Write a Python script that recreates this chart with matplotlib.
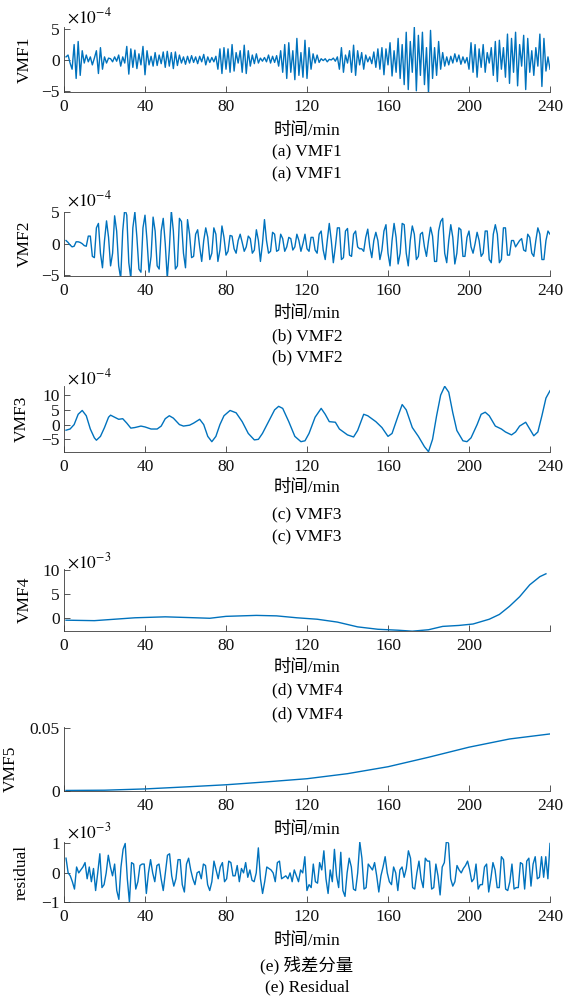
import numpy as np
import matplotlib
matplotlib.use("Agg")
import matplotlib.pyplot as plt

plt.rcParams['font.family'] = ['Liberation Serif', 'Noto Sans CJK SC']
plt.rcParams['mathtext.fontset'] = 'stix'

# ---------------- data ----------------
vmf1 = [0.5, 0.8, -0.5, -1.5, 2.5, -3.0, 3.0, -2.5, 1.5, -0.5,
        0.8, -0.3, 0.5, -0.8, 0.3, 1.5, -2.2, 2.0, -1.5, 0.5,
        -0.5, 0.3, 0.2, -0.3, 0.5, -0.2, 0.8, -1.0, 0.5, -0.5,
        2.2, -2.3, 1.8, -1.2, 1.6, -1.4, 1.0, -0.8, 2.2, -2.4,
        1.5, -0.8, 0.6, -1.0, 1.2, -0.9, 0.8, -0.6, 1.3, -1.2,
        1.4, -1.0, 1.2, -1.4, 1.3, -0.9, 0.8, -0.5, 0.5, -0.7,
        0.6, -0.5, 0.7, -0.4, 0.5, -0.6, 0.6, -0.3, 0.9, -0.8,
        0.5, -0.4, 0.4, -0.3, 0.6, -1.5, 1.8, -2.2, 2.0, -1.5,
        1.8, -2.0, 2.5, -1.8, 1.2, -0.5, 1.5, -2.0, 2.4, -2.2,
        1.5, -1.0, 0.8, -0.6, 1.0, -0.5, 0.3, -0.2, 0.4, -0.3,
        0.8, -0.5, 0.6, -0.4, 0.7, -1.0, 1.5, -2.0, 2.5, -3.0,
        2.8, -2.0, 1.5, -3.2, 3.5, -2.5, 1.2, -2.8, 3.2, -3.0,
        2.0, -1.5, 1.0, -0.5, 0.8, -0.4, 0.2, -0.1, 0.2, -0.3,
        0.1, 0.0, 0.3, -0.2, 0.5, -1.5, 2.0, -2.0, 0.8, -0.5,
        1.5, -2.0, 2.4, -2.5, 1.5, -0.8, 1.2, -1.5, 0.8, -0.3,
        0.5, -0.6, 1.3, -1.2, 1.8, -1.5, 2.0, -2.4, 1.8, -0.8,
        2.8, -2.6, 1.5, -2.0, 3.5, -3.0, 2.5, -4.0, 4.5, -4.8,
        3.0, -2.0, 5.3, -5.0, 4.0, -2.5, 4.5, -4.0, 2.0, -5.4,
        4.8, -3.0, 2.0, -2.5, 3.0, -1.5, 1.2, -1.0, 0.5, -0.8,
        0.6, -0.5, 1.0, -0.3, 0.8, -0.7, 0.5, -0.5, 0.4, -1.5,
        2.8, -2.0, 2.5, -2.8, 1.8, -1.2, 2.5, -2.0, 1.2, -0.5,
        2.0, -2.5, 3.0, -3.5, 3.2, -1.5, 2.0, -2.8, 4.2, -3.8,
        3.5, -2.0, 4.5, -4.2, 2.5, -1.0, 4.0, -4.8, 3.5, -2.0,
        1.5, -2.5, 2.0, -1.0, 4.2, -4.3, 3.5, -1.8, 0.5, -1.5]

vmf2 = [0.5, 0.2, -0.2, -0.5, -0.4, 0.3, 0.3, 0.2, 0.0, -0.3,
        -0.4, 1.2, 1.2, -2.0, -2.2, 2.5, 3.2, -1.5, -3.8, 0.5,
        3.6, 1.0, -3.5, -1.5, 4.4, 2.0, -3.5, -5.5, 2.0, 5.5,
        4.5, -3.0, -5.5, 2.5, 5.0, 1.0, -4.0, -4.5, 2.5, 4.5,
        0.5, -4.5, -2.0, 4.2, 2.0, -3.5, -4.0, 2.0, 4.0, 0.0,
        -5.5, -1.0, 5.2, 2.0, -4.0, -3.5, 4.0, 3.5, -1.5, -3.8,
        3.8, 1.5, -2.2, -2.0, 1.5, 2.2, -0.5, -2.8, 0.5, 2.5,
        1.0, -2.5, -1.5, 2.5, 1.5, -2.8, -1.0, 2.8, 1.0, -1.8,
        -1.2, 1.3, 1.2, -0.8, -1.5, 0.5, 1.5, 0.2, -1.2, -0.5,
        1.2, 0.8, -1.5, -1.0, 2.2, 0.5, -2.8, 0.0, 3.8, 0.5,
        -1.5, -1.2, 1.8, 1.5, -1.2, -1.0, 1.5, 0.8, -1.2, -0.5,
        1.0, 0.8, -1.0, -0.5, 1.5, 0.5, -1.2, 0.0, 1.5, -0.8,
        -1.2, 1.0, 1.0, -1.0, -1.5, 1.5, 2.0, -1.0, -2.5, 0.5,
        3.2, 0.5, -3.0, -0.5, 2.5, 2.5, -2.5, -2.2, 2.0, 2.4,
        -1.8, -2.0, 1.5, 2.0, -0.5, -0.8, -0.8, -1.2, 1.0, 2.3,
        -0.5, -2.2, 0.5, 1.8, 0.5, -2.5, -1.0, 2.0, 3.0, -1.5,
        -3.5, 0.5, 3.2, 1.0, -3.2, -1.5, 3.2, 3.0, -1.5, -3.5,
        0.5, 2.8, 1.5, -2.5, -2.0, 1.5, 1.8, -0.5, -2.0, 0.5,
        2.6, 1.2, -2.8, -2.8, 2.0, 3.5, 4.0, -1.5, -3.0, 0.5,
        3.0, 1.0, -3.2, -1.5, 2.5, 2.2, -2.0, -2.0, 1.0, 2.0,
        -0.5, -1.5, 0.0, 1.8, 0.5, -2.0, -1.5, 2.0, 2.0, -2.5,
        -3.0, 1.5, 3.0, 1.5, -3.0, -2.5, 2.5, 2.5, -1.8, -1.8,
        0.5, 0.5, -0.5, 0.0, 0.5, 0.8, -1.0, -1.2, 1.5, 1.0,
        -1.5, -2.0, 0.5, 2.5, 1.5, -2.5, -2.5, 0.5, 2.0, 1.5]

vmf3_t = [1, 3, 5, 7, 9, 11, 13, 15, 16, 18, 20, 22, 23, 25, 27, 29, 31, 33, 35, 38,
          40, 43, 46, 48, 50, 52, 54, 57, 59, 62, 64, 67, 69, 71, 73, 75, 77, 79, 82, 85,
          88, 91, 94, 96, 98, 101, 104, 106, 108, 111, 114, 117, 119, 121, 124, 127, 129, 131, 134, 136,
          140, 143, 145, 148, 150, 154, 157, 160, 162, 165, 167, 169, 172, 175, 178, 180, 182, 184, 186, 188,
          190, 192, 194, 197, 199, 201, 204, 206, 208, 210, 213, 216, 218, 221, 223, 225, 228, 230, 232, 234,
          236, 238, 240]
vmf3 = [-1.9, -1.5, 0.0, 3.5, 4.8, 3.0, -1.5, -4.5, -5.3, -4.0, -1.0, 2.5, 3.2, 2.5, 1.8, 2.0, 0.5, -1.2, -1.0, -0.5,
        -0.8, -1.5, -1.5, -0.5, 2.0, 3.0, 2.2, 0.0, -0.5, -0.2, 0.5, 1.8, 0.0, -4.0, -5.8, -4.0, 0.0, 3.0, 4.8, 4.0,
        1.0, -3.0, -5.2, -5.0, -3.0, 1.0, 5.0, 6.2, 5.5, 1.0, -4.0, -5.8, -5.5, -3.0, 2.5, 5.5, 3.5, 1.0, 0.8, -1.5,
        -3.5, -4.2, -2.0, 3.5, 3.0, 1.0, -1.0, -4.0, -3.0, 3.0, 6.8, 5.0, -1.0, -4.0, -7.5, -9.2, -5.0, 3.0, 10.0, 13.0,
        11.0, 4.0, -2.0, -5.5, -5.8, -4.5, 0.0, 3.5, 4.2, 3.0, -0.5, -1.5, -2.5, -3.5, -2.5, -0.5, 0.8, -1.5, -3.8, -2.5,
        3.0, 9.0, 11.5]

vmf4_t = [1, 15, 25, 35, 50, 65, 72, 80, 95, 105, 115, 125, 135, 145, 155, 165, 172, 180, 187, 195,
          202, 210, 215, 220, 225, 230, 235, 238]
vmf4 = [-0.4, -0.5, -0.2, 0.1, 0.3, 0.1, 0.0, 0.4, 0.6, 0.5, 0.1, -0.2, -0.8, -1.8, -2.3, -2.5, -2.7, -2.4, -1.7, -1.5,
        -1.2, -0.2, 0.8, 2.5, 4.5, 7.0, 8.7, 9.3]

vmf5_t = [1, 20, 40, 60, 80, 100, 120, 140, 160, 180, 200, 220, 240]
vmf5 = [0.0002, 0.0004, 0.0014, 0.003, 0.0047, 0.007, 0.0095, 0.0135, 0.019, 0.0265, 0.0345, 0.041, 0.045]

resid = [0.5, 0.0, -0.1, -0.3, -0.55, 0.2, 0.0, 0.1, 0.2, 0.35,
         -0.2, 0.2, -0.3, 0.15, -0.6, 0.0, 0.65, -0.5, -0.4, 0.0,
         0.6, 0.2, -0.1, 0.3, -0.6, -0.9, 0.2, 0.8, 1.0, -0.2,
         -1.0, 0.35, 0.3, -0.55, -0.3, 0.25, 0.3, 0.3, -0.7, 0.0,
         0.45, 0.0, -0.3, 0.25, 0.3, -0.2, -0.6, 0.0, 0.6, 0.65,
         -0.1, -0.45, -0.2, 0.45, 0.45, -0.4, -0.65, 0.3, 0.5, 0.1,
         -0.2, -0.4, 0.0, 0.05, -0.2, 0.3, 0.25, -0.4, -0.6, -0.3,
         0.4, 0.1, -0.2, 0.2, 0.35, -0.3, -0.2, 0.4, 0.35, -0.1,
         -0.1, 0.25, -0.3, 0.15, 0.0, 0.35, -0.15, 0.1, -0.25, -0.3,
         0.0, 0.85, -0.2, -0.7, -0.3, 0.2, 0.15, 0.1, 0.0, -0.3,
         0.35, 0.4, -0.2, -0.15, -0.1, -0.2, 0.0, -0.3, 0.1, -0.1,
         -0.3, 0.1, 0.0, 0.55, -0.6, -0.4, -0.5, 0.3, -0.3, -0.35,
         0.35, 0.1, 0.75, -0.2, -0.7, 0.1, -0.3, 0.8, -0.1, -0.5,
         0.7, -0.6, -0.8, 0.0, 0.5, 0.2, -0.55, -0.6, 0.0, 1.05,
         0.5, -0.55, -0.5, 0.3, 0.2, 0.1, 0.35, -0.1, -0.65, -0.1,
         0.2, 0.55, 0.0, -0.3, -0.4, 0.2, 0.0, -0.6, 0.1, 0.2,
         -0.15, 0.15, 0.75, 0.5, -0.5, -0.55, 0.0, 0.4, -0.2, -0.5,
         0.5, 0.4, 0.4, -0.55, -0.5, 0.3, -0.1, -0.75, 0.2, 0.35,
         1.1, 1.0, -0.2, -0.45, -0.3, 0.25, 0.1, 0.0, 0.15, 0.25,
         0.4, 0.1, -0.3, -0.2, 0.3, -0.55, -0.4, -0.4, 0.2, 0.3,
         -0.65, -0.2, 0.35, 0.1, -0.5, -0.5, 0.55, 0.45, -0.55, -0.6,
         -0.3, 0.3, -0.55, -0.5, -0.5, 0.35, 0.3, -0.55, 0.4, 0.5,
         -0.45, 0.3, 0.55, -0.2, -0.15, 0.55, -0.15, 0.55, -0.2, 1.0]

xticks = [0, 40, 80, 120, 160, 200, 240]

# ---------------- layout (pixels) ----------------
W, H = 578, 998
fig = plt.figure(figsize=(W / 100, H / 100), dpi=100)
L, R = 64, 550
panels = [(26.7, 92.0), (211.7, 275.7), (386.0, 451.7), (569.0, 630.7), (727.0, 790.7), (841.7, 902.3)]
FS = 12.5
BLUE = '#0072BD'
SP = '#3a3a3a'


def mk(i):
    top, bot = panels[i]
    ax = fig.add_axes([L / W, 1 - bot / H, (R - L) / W, (bot - top) / H])
    for s in ('top', 'right'):
        ax.spines[s].set_visible(False)
    for s in ('left', 'bottom'):
        ax.spines[s].set_color(SP)
        ax.spines[s].set_linewidth(0.6)
    ax.tick_params(direction='in', length=4, width=0.6, color=SP, labelsize=FS,
                   labelcolor='#111111')
    ax.tick_params(axis='x', pad=5)
    ax.tick_params(axis='y', pad=3)
    ax.set_xlim(0, 240)
    ax.set_xticks(xticks)
    return ax


def ftext(x, y, s, **kw):
    kw.setdefault('ha', 'center')
    kw.setdefault('va', 'center')
    kw.setdefault('fontsize', FS)
    fig.text(x / W, 1 - y / H, s, **kw)


def offset(y, s):
    ftext(67, y, s, ha='left', fontsize=FS)


def ylab(ax, s, xpx, yfrac=0.5):
    ax.set_ylabel(s, fontsize=FS)
    ax.yaxis.set_label_coords((xpx - L) / (R - L), yfrac)


CX = (L + R) / 2

# (a)
ax = mk(0)
ax.plot(np.linspace(1, 240, len(vmf1)), vmf1, color=BLUE, lw=1.0)
ax.set_ylim(-5.2, 5.4)
ax.set_yticks([-5, 0, 5])
ylab(ax, 'VMF1', 33)
offset(17, r'$\times10^{-4}$')
ftext(CX, 130.7, '时间/min')
ftext(CX, 152.7, '(a) VMF1')
ftext(CX, 174, '(a) VMF1')

# (b)
ax = mk(1)
ax.plot(np.linspace(1, 240, len(vmf2)), vmf2, color=BLUE, lw=1.0)
ax.set_ylim(-5.05, 5.05)
ax.set_yticks([-5, 0, 5])
ylab(ax, 'VMF2', 33)
offset(200, r'$\times10^{-4}$')
ftext(CX, 314, '时间/min')
ftext(CX, 336, '(b) VMF2')
ftext(CX, 357, '(b) VMF2')

# (c)
ax = mk(2)
ax.plot(vmf3_t, vmf3, color=BLUE, lw=1.0)
ax.set_ylim(-9.2, 13.1)
ax.set_yticks([-5, 0, 5, 10])
ylab(ax, 'VMF3', 30)
offset(378, r'$\times10^{-4}$')
ftext(CX, 488, '时间/min')
ftext(CX, 515, '(c) VMF3')
ftext(CX, 537, '(c) VMF3')

# (d)
ax = mk(3)
ax.plot(vmf4_t, vmf4, color=BLUE, lw=1.0)
ax.set_ylim(-2.6, 10.3)
ax.set_yticks([0, 5, 10])
ax.set_xticklabels(['0', '40', '80', '120', '160', '200', ''])
ylab(ax, 'VMF4', 33)
offset(562, r'$\times10^{-3}$')
ftext(CX, 668, '时间/min')
ftext(CX, 690, '(d) VMF4')
ftext(CX, 714, '(d) VMF4')

# (e) VMF5
ax = mk(4)
ax.plot(vmf5_t, vmf5, color=BLUE, lw=1.0)
ax.set_ylim(0, 0.0505)
ax.set_yticks([0, 0.05])
ax.set_yticklabels(['0', '0.05'])
ax.set_xticklabels(['', '40', '80', '120', '160', '200', '240'])
ylab(ax, 'VMF5', 19, 0.34)
ftext(CX, 830, '时间/min')

# (f) residual
ax = mk(5)
ax.plot(np.linspace(1, 240, len(resid)), resid, color=BLUE, lw=1.0)
ax.set_ylim(-1.0, 1.06)
ax.set_yticks([-1, 0, 1])
ylab(ax, 'residual', 30)
offset(832, r'$\times10^{-3}$')
ftext(CX, 941, '时间/min')
ftext(CX, 965, '(e) 残差分量')
ftext(CX, 987.7, '(e) Residual')

fig.savefig('out.png', dpi=100)
